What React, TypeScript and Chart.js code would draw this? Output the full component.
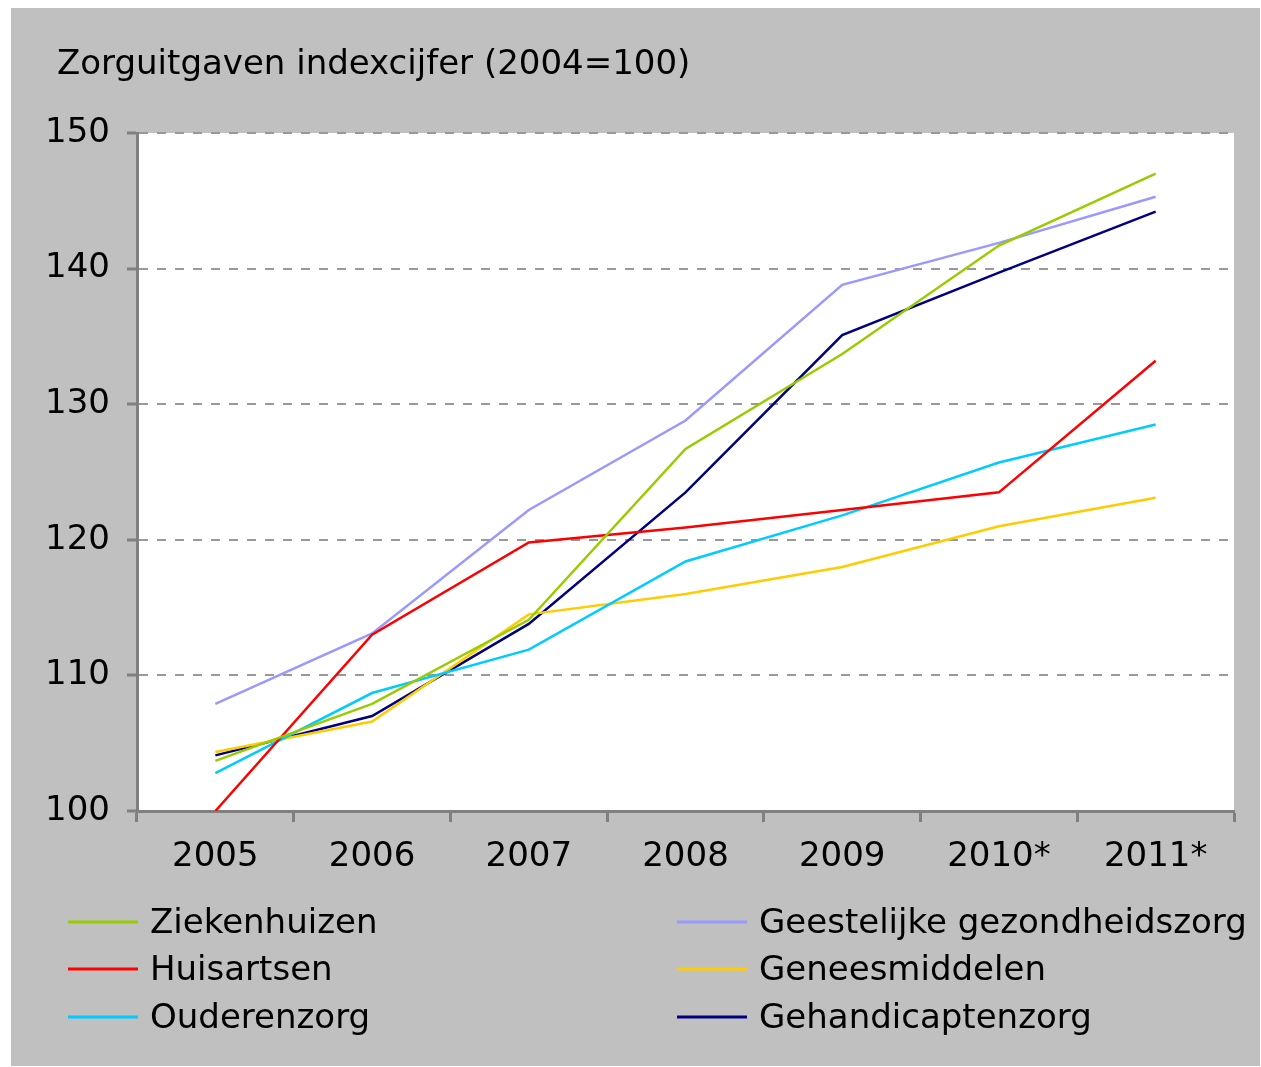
import React, { useEffect, useRef } from "react";
import { Chart, registerables } from "chart.js";

Chart.register(...registerables);

const titleText = "Zorguitgaven indexcijfer (2004=100)";
const years = ["2005", "2006", "2007", "2008", "2009", "2010*", "2011*"];
const ziekenhuizen = [103.7, 107.9, 114.1, 126.7, 133.7, 141.7, 147.0];
const huisartsen = [100.0, 113.0, 119.8, 120.9, 122.2, 123.5, 133.2];
const ouderenzorg = [102.8, 108.7, 111.9, 118.4, 121.8, 125.7, 128.5];
const geestelijke = [107.9, 113.1, 122.2, 128.8, 138.8, 141.9, 145.3];
const geneesmiddelen = [104.35, 106.6, 114.5, 116.0, 118.0, 121.0, 123.1];
const gehandicapten = [104.1, 107.0, 113.8, 123.5, 135.1, 139.7, 144.2];
const seriesNames = [
  "Ziekenhuizen",
  "Huisartsen",
  "Ouderenzorg",
  "Geestelijke gezondheidszorg",
  "Geneesmiddelen",
  "Gehandicaptenzorg",
];
const seriesColors = ["#99cc00", "#ff0000", "#00ccff", "#9999ff", "#ffcc00", "#000080"];
const yMin = 100;
const yMax = 150;
const yStep = 10;

const FONT = "'DejaVu Sans', Verdana, sans-serif";
const FS = 34;

const decorPlugin = {
  id: "decor",
  beforeDraw(chart: any) {
    const ctx = chart.ctx;
    const a = chart.chartArea;
    ctx.save();
    ctx.fillStyle = "#ffffff";
    ctx.fillRect(0, 0, chart.width, chart.height);
    ctx.fillStyle = "#c0c0c0";
    ctx.fillRect(11, 8, 1249, 1058);
    ctx.fillStyle = "#ffffff";
    ctx.fillRect(a.left, a.top, a.right - a.left, a.bottom - a.top);
    ctx.restore();
  },
  afterDraw(chart: any) {
    const ctx = chart.ctx;
    ctx.save();
    ctx.font = `${FS}px ${FONT}`;
    ctx.fillStyle = "#000000";
    ctx.textBaseline = "alphabetic";
    ctx.textAlign = "left";
    ctx.fillText(titleText, 57, 74);
    const rowsY = [922, 969, 1017];
    chart.data.datasets.forEach((ds: any, i: number) => {
      const col = i < 3 ? 0 : 1;
      const row = i % 3;
      const x0 = col === 0 ? 68 : 677;
      const y = rowsY[row];
      ctx.strokeStyle = ds.borderColor;
      ctx.lineWidth = 3;
      ctx.beginPath();
      ctx.moveTo(x0, y);
      ctx.lineTo(x0 + 70, y);
      ctx.stroke();
      ctx.fillStyle = "#000000";
      ctx.fillText(ds.label, x0 + 82, y + 11);
    });
    ctx.restore();
  },
};

export default function App() {
  const ref = useRef<HTMLCanvasElement | null>(null);
  useEffect(() => {
    if (!ref.current) return;
    const datasets = [ziekenhuizen, huisartsen, ouderenzorg, geestelijke, geneesmiddelen, gehandicapten].map(
      (d, i) => ({
        label: seriesNames[i],
        data: d,
        borderColor: seriesColors[i],
        backgroundColor: seriesColors[i],
        borderWidth: 2.5,
        pointRadius: 0,
        tension: 0,
        fill: false,
      })
    );
    const chart = new Chart(ref.current, {
      type: "line",
      data: { labels: years, datasets },
      options: {
        animation: false,
        responsive: false,
        devicePixelRatio: 1,
        layout: { padding: { left: 0, top: 133, right: 27, bottom: 196 } },
        plugins: { legend: { display: false }, title: { display: false }, tooltip: { enabled: false } },
        scales: {
          x: {
            type: "category",
            offset: true,
            grid: {
              offset: true,
              drawOnChartArea: false,
              drawTicks: true,
              tickLength: 11,
              tickWidth: 3,
              tickColor: "#808080",
              color: "#808080",
            },
            border: { display: true, color: "#808080", width: 3 },
            ticks: { color: "#000000", font: { family: FONT, size: FS }, padding: 15, maxRotation: 0, autoSkip: false },
            afterFit: (s: any) => {
              s.height = 60;
            },
          },
          y: {
            min: yMin,
            max: yMax,
            grid: {
              color: "#999999",
              lineWidth: 2,
              drawTicks: true,
              tickLength: 10,
              tickWidth: 3,
              tickColor: "#808080",
            },
            border: { display: true, color: "#808080", width: 3, dash: [9, 9] },
            ticks: { stepSize: yStep, color: "#000000", font: { family: FONT, size: FS }, padding: 17 },
            afterFit: (s: any) => {
              s.width = 137;
            },
          },
        },
      },
      plugins: [decorPlugin],
    } as any);
    return () => chart.destroy();
  }, []);
  return (
    <div style={{ position: "absolute", left: 0, top: 0, width: 1261, height: 1067, background: "#fff" }}>
      <canvas ref={ref} width={1261} height={1067} style={{ display: "block", width: 1261, height: 1067 }} />
    </div>
  );
}
